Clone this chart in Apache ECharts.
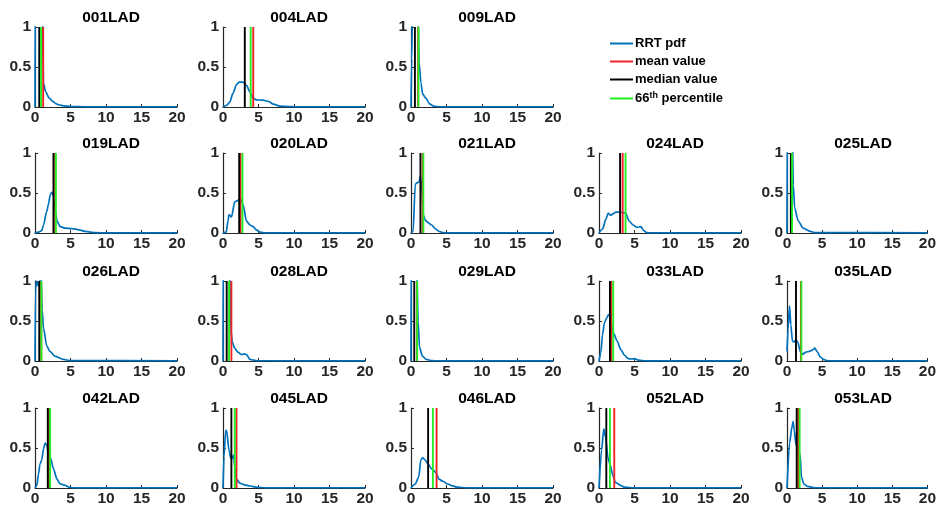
<!DOCTYPE html>
<html>
<head>
<meta charset="utf-8">
<script src="https://cdn.jsdelivr.net/npm/echarts@6/dist/echarts.min.js"></script>
<style>
html,body{margin:0;padding:0;background:#fff;}
#chart{width:939px;height:515px;}
</style>
</head>
<body>
<div id="chart"></div>
<script>
// ---------- data ----------
const panelNames = ['001LAD','004LAD','009LAD','019LAD','020LAD','021LAD','024LAD','025LAD','026LAD',
  '028LAD','029LAD','033LAD','035LAD','042LAD','045LAD','046LAD','052LAD','053LAD'];
const meanValues   = [1.15, 4.26, 1.0, 2.85, 2.46, 1.65, 3.33, 0.7, 0.88, 1.18, 0.85, 1.74, 1.98, 2.0, 1.9, 3.6, 2.15, 1.6];
const medianValues = [0.6, 3.07, 0.55, 2.6, 2.28, 1.33, 2.97, 0.55, 0.6, 0.52, 0.46, 1.54, 1.28, 1.8, 1.18, 2.41, 1.03, 1.38];
const p66Values    = [0.85, 3.9, 1.05, 2.94, 2.74, 1.74, 3.74, 0.72, 0.9, 0.85, 0.87, 2.0, 2.05, 2.13, 1.66, 3.08, 1.54, 1.8];
const xTicks = [0, 5, 10, 15, 20];
const yTicks = [0, 0.5, 1];

const pdf001 = [[0,0],[0.05,1.5],[0.3,2.5],[0.8,2.0],[1.05,1.2],[1.2,0.3],[1.5,0.19],[2,0.11],[2.5,0.07],[3,0.04],[3.5,0.025],[4,0.015],[5,0.005],[7,0.002],[20,0.001]];
const pdf004 = [[0,0],[0.5,0.02],[0.95,0.06],[1.4,0.17],[1.9,0.28],[2.3,0.31],[2.8,0.31],[3.3,0.27],[3.8,0.19],[4.25,0.11],[4.7,0.09],[5.6,0.085],[6.4,0.07],[7.1,0.035],[8,0.012],[9.5,0.004],[11,0.001],[20,0.001]];
const pdf009 = [[0,0],[0.1,0.6],[0.25,1.5],[0.6,2.0],[0.95,1.3],[1.15,0.55],[1.4,0.3],[1.65,0.16],[2.1,0.11],[2.6,0.04],[3.2,0.01],[4,0.002],[20,0.001]];
const pdf019 = [[0,0],[0.5,0.01],[0.95,0.03],[1.2,0.1],[1.65,0.27],[1.9,0.36],[2.15,0.48],[2.4,0.51],[2.6,0.46],[2.85,0.27],[3.1,0.15],[3.55,0.08],[4.25,0.06],[5.2,0.055],[6.2,0.04],[7.1,0.02],[8.5,0.004],[10,0.001],[20,0.001]];
const pdf020 = [[0,0],[0.45,0.01],[0.7,0.15],[0.85,0.23],[1.2,0.2],[1.65,0.39],[2.2,0.41],[2.5,0.42],[2.85,0.35],[3.3,0.15],[3.8,0.1],[4.25,0.08],[4.7,0.04],[5.2,0.01],[6,0.002],[20,0.001]];
const pdf021 = [[0,0],[0.3,0.02],[0.6,0.61],[0.9,0.63],[1.15,0.64],[1.3,0.71],[1.5,0.6],[1.75,0.22],[2.0,0.16],[2.4,0.13],[2.9,0.1],[3.4,0.055],[3.95,0.02],[4.5,0.005],[5.5,0.001],[20,0.001]];
const pdf024 = [[0,0],[0.5,0.05],[1.0,0.18],[1.3,0.25],[1.65,0.22],[1.95,0.24],[2.4,0.26],[3.0,0.26],[3.75,0.25],[4.25,0.15],[4.8,0.1],[5.3,0.07],[5.9,0.08],[6.3,0.03],[6.7,0.005],[7.5,0.001],[20,0.001]];
const pdf025 = [[0,0],[0.05,1.5],[0.4,2.0],[0.75,1.3],[0.9,0.6],[1.1,0.31],[1.6,0.15],[2.3,0.06],[3.3,0.02],[4,0.005],[20,0.001]];
const pdf026 = [[0,0],[0.08,0.9],[0.25,1.0],[0.45,0.94],[0.65,1.0],[0.85,1.05],[1.0,0.65],[1.2,0.41],[1.65,0.19],[2.1,0.12],[2.8,0.06],[4,0.02],[5,0.005],[20,0.001]];
const pdf028 = [[0,0],[0.05,1.5],[0.4,1.8],[0.9,1.3],[1.1,0.4],[1.3,0.24],[1.65,0.16],[2.1,0.11],[2.6,0.08],[3.05,0.09],[3.3,0.08],[3.8,0.02],[4.3,0.01],[5,0.003],[20,0.001]];
const pdf029 = [[0,0],[0.05,1.5],[0.4,2.0],[0.8,1.2],[1.0,0.5],[1.2,0.17],[1.6,0.06],[2.15,0.02],[2.9,0.005],[4,0.001],[20,0.001]];
const pdf033 = [[0,0],[0.25,0.1],[0.5,0.33],[0.77,0.48],[1.1,0.54],[1.35,0.58],[1.55,0.56],[1.75,0.45],[2.05,0.35],[2.55,0.25],[3.1,0.14],[3.6,0.07],[4.1,0.03],[4.6,0.025],[5.0,0.03],[5.6,0.01],[6.5,0.002],[20,0.001]];
const pdf035 = [[0,0.12],[0.15,0.4],[0.36,0.69],[0.55,0.45],[0.77,0.25],[1.03,0.24],[1.28,0.27],[1.55,0.23],[1.9,0.12],[2.2,0.085],[2.7,0.11],[3.2,0.12],[3.7,0.14],[3.95,0.16],[4.35,0.11],[4.7,0.055],[5.2,0.02],[5.7,0.005],[6.5,0.001],[20,0.001]];
const pdf042 = [[0,0],[0.25,0.03],[0.5,0.18],[0.7,0.3],[0.95,0.35],[1.2,0.49],[1.42,0.56],[1.65,0.54],[1.9,0.43],[2.2,0.37],[2.6,0.24],[3.1,0.11],[3.55,0.05],[4.0,0.04],[4.35,0.03],[4.75,0.01],[5.5,0.002],[20,0.001]];
const pdf045 = [[0,0],[0.14,0.39],[0.38,0.72],[0.5,0.72],[0.85,0.47],[1.1,0.37],[1.28,0.37],[1.5,0.41],[1.66,0.26],[1.9,0.11],[2.35,0.06],[3.05,0.04],[3.8,0.025],[4.7,0.01],[6,0.002],[20,0.001]];
const pdf046 = [[0,0],[0.6,0.05],[1.1,0.14],[1.38,0.35],[1.64,0.38],[2.0,0.35],[2.4,0.3],[2.9,0.24],[3.45,0.2],[3.95,0.11],[4.45,0.085],[5.2,0.05],[5.7,0.03],[6.5,0.01],[8,0.002],[20,0.001]];
const pdf052 = [[0,0],[0.36,0.47],[0.67,0.74],[0.92,0.64],[1.28,0.37],[1.54,0.3],[1.95,0.16],[2.3,0.07],[3.1,0.03],[3.6,0.01],[5,0.002],[20,0.001]];
const pdf053 = [[0,0],[0.36,0.56],[0.72,0.77],[0.87,0.83],[1.03,0.72],[1.28,0.54],[1.64,0.47],[1.88,0.41],[2.05,0.14],[2.4,0.05],[2.9,0.02],[4,0.003],[20,0.001]];

const pdfList = [pdf001,pdf004,pdf009,pdf019,pdf020,pdf021,pdf024,pdf025,pdf026,pdf028,pdf029,pdf033,pdf035,pdf042,pdf045,pdf046,pdf052,pdf053];
const seriesNames = ['RRT pdf','mean value','median value','66th percentile'];

// ---------- layout / style ----------
const FONT = '"Liberation Sans", Arial, sans-serif';
const TXT = '#262626';
const colors = { pdf:'#0072BD', mean:'#F02222', median:'#000000', p66:'#22EE22' };
const colLeft = [35, 223, 411, 599, 787];
const rowTop = [27, 153, 281, 408];
const GW = 142, GH = 80;
// panel slots: row 0 has 3 panels, others 5
const slots = [];
for (let c = 0; c < 3; c++) slots.push([0, c]);
for (let r = 1; r < 4; r++) for (let c = 0; c < 5; c++) slots.push([r, c]);

const grids = [], xAxes = [], yAxes = [], titles = [], series = [];
panelNames.forEach((name, i) => {
  const [r, c] = slots[i];
  grids.push({ left: colLeft[c], top: rowTop[r], width: GW, height: GH });
  titles.push({
    text: name, left: colLeft[c] + GW / 2, top: rowTop[r] - 22, textAlign: 'center',
    textStyle: { fontFamily: FONT, fontSize: 15.5, fontWeight: 'bold', color: '#000' }
  });
  xAxes.push({
    type: 'value', gridIndex: i, min: xTicks[0], max: xTicks[xTicks.length - 1],
    interval: xTicks[1] - xTicks[0],
    axisLine: { show: true, onZero: false, lineStyle: { color: TXT, width: 1.2 } },
    axisTick: { show: true, inside: true, length: 3, lineStyle: { color: TXT } },
    axisLabel: { fontFamily: FONT, fontSize: 15.5, fontWeight: 'bold', color: TXT, margin: 3 },
    splitLine: { show: false }
  });
  yAxes.push({
    type: 'value', gridIndex: i, min: yTicks[0], max: yTicks[yTicks.length - 1],
    interval: yTicks[1] - yTicks[0],
    axisLine: { show: true, onZero: false, lineStyle: { color: TXT, width: 1.2 } },
    axisTick: { show: true, inside: true, length: 3, lineStyle: { color: TXT } },
    axisLabel: { fontFamily: FONT, fontSize: 15.5, fontWeight: 'bold', color: TXT, margin: 4 },
    splitLine: { show: false }
  });
  const base = { type: 'line', xAxisIndex: i, yAxisIndex: i, symbol: 'none', clip: true, animation: false };
  series.push(Object.assign({}, base, {
    name: seriesNames[0], data: pdfList[i], smooth: 0.25, smoothMonotone: 'x',
    lineStyle: { color: colors.pdf, width: 1.7 }, itemStyle: { color: colors.pdf }, z: 2
  }));
  series.push(Object.assign({}, base, {
    name: seriesNames[1], data: [[meanValues[i], 0], [meanValues[i], 1]],
    lineStyle: { color: colors.mean, width: 1.9 }, itemStyle: { color: colors.mean }, z: 3
  }));
  series.push(Object.assign({}, base, {
    name: seriesNames[2], data: [[medianValues[i], 0], [medianValues[i], 1]],
    lineStyle: { color: colors.median, width: 1.9 }, itemStyle: { color: colors.median }, z: 4
  }));
  series.push(Object.assign({}, base, {
    name: seriesNames[3], data: [[p66Values[i], 0], [p66Values[i], 1]],
    lineStyle: { color: colors.p66, width: 1.9 }, itemStyle: { color: colors.p66 }, z: 5
  }));
});

const chart = echarts.init(document.getElementById('chart'), null, { renderer: 'canvas' });
chart.setOption({
  animation: false,
  backgroundColor: '#fff',
  title: titles,
  grid: grids,
  xAxis: xAxes,
  yAxis: yAxes,
  legend: {
    data: seriesNames, orient: 'vertical', left: 605, top: 32,
    icon: 'rect', itemWidth: 23, itemHeight: 2, itemGap: 5,
    selectedMode: false,
    textStyle: {
      fontFamily: FONT, fontSize: 13, fontWeight: 'bold', color: '#000', padding: [0, 0, 0, -3],
      rich: { sup: { fontFamily: FONT, fontSize: 9, fontWeight: 'bold', color: '#000', verticalAlign: 'top', padding: [0, 0, 6, 0] } }
    },
    formatter: n => n === '66th percentile' ? '66{sup|th} percentile' : n
  },
  series: series
});
</script>
</body>
</html>
